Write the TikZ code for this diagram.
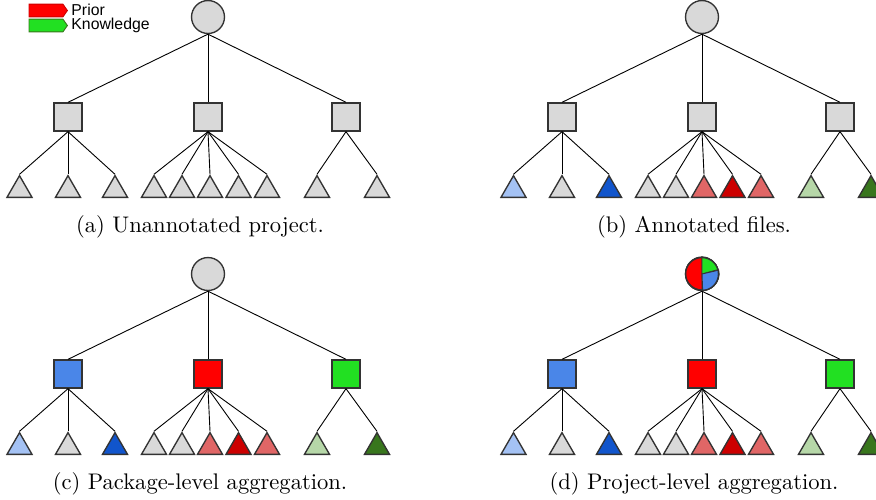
\documentclass[tikz,border=0pt]{standalone}
\usepackage{fontspec}
\newfontfamily\legendfont{Liberation Sans}
\usetikzlibrary{shapes.geometric,shapes.symbols}
\definecolor{nodegray}{RGB}{217,217,217}
\definecolor{lblue}{HTML}{A4C2F4}
\definecolor{dblue}{HTML}{1155CC}
\definecolor{lred}{HTML}{E06666}
\definecolor{dred}{HTML}{CC0000}
\definecolor{lgreen}{HTML}{B6D7A8}
\definecolor{dgreen}{HTML}{38761D}
\definecolor{pblue}{HTML}{4A86E8}
\definecolor{pred}{HTML}{FF0000}
\definecolor{pgreen}{RGB}{34,224,34}

\begin{document}
\begin{tikzpicture}[x=0.443pt,y=-0.443pt,
    rootnode/.style={circle,draw=black!80,line width=0.6pt,fill=nodegray,minimum size=14.6pt,inner sep=0pt},
    pkg/.style={draw=black!80,line width=0.6pt,minimum size=12.4pt,inner sep=0pt},
    leaf/.style={regular polygon,regular polygon sides=3,draw=black!80,line width=0.6pt,minimum size=12.8pt,inner sep=0pt,anchor=south},
    greyed/.style={fill=nodegray},
    coloured/.style={},
    legend/.style={signal,signal to=east,signal pointer angle=110,minimum width=17pt,minimum height=5.6pt,inner sep=0pt,line width=0.4pt},
    legendtext/.style={anchor=west,inner sep=0pt,font=\legendfont\fontsize{7}{8}\selectfont}]
  \useasboundingbox (0,0) rectangle (876,499);
  % legend
  \node[legend,fill=pred,draw=dred] (prior) at (46,10.5) {};
  \node[legendtext] (priortext) at (71,10) {Prior};
  \node[legend,fill=pgreen,draw=dgreen] (knowledge) at (46,25.5) {};
  \node[legendtext] (knowledgetext) at (71,25.5) {Knowledge};
  % the four trees
  \foreach \p/\dx/\dy/\sa/\sb/\sc/\lk/\cap in {
      a/0/0/nodegray/nodegray/nodegray/greyed/{(a) Unannotated project.},
      b/494/0/nodegray/nodegray/nodegray/coloured/{(b) Annotated files.},
      c/0/257/pblue/pred/pgreen/coloured/{(c) Package-level aggregation.},
      d/494/257/pblue/pred/pgreen/coloured/{(d) Project-level aggregation.}}{
    \begin{scope}[shift={(\dx,\dy)}]
      \node[rootnode] (\p0) at (208,17) {};
      \foreach \x/\c [count=\i] in {68/\sa,208/\sb,346/\sc}{
        \node[pkg,fill=\c] (\p\i) at (\x,117) {};
        \draw (\p0.south) -- (\p\i.north);
      }
      \foreach \x/\k/\c [count=\i] in {19.5/1/lblue,68/1/nodegray,115/1/dblue,
          154/2/nodegray,182/2/nodegray,210/2/lred,238.5/2/dred,267/2/lred,
          317/3/lgreen,377/3/dgreen}{
        \node[leaf,fill=\c,\lk] (\p\k-\i) at (\x,198) {};
        \draw (\p\k.south) -- (\p\k-\i.corner 1);
      }
      \node (\p cap) at (200,227) {\cap};
    \end{scope}
  }
  % pie chart on the project node
  \fill[pred,draw=black!80] (d0.center) -- (d0.north) arc[start angle=90,end angle=270,radius=7.3pt] -- cycle;
  \fill[pgreen,draw=black!80] (d0.center) -- (d0.north) arc[start angle=90,end angle=13,radius=7.3pt] -- cycle;
  \fill[pblue,draw=black!80] (d0.center) -- (d0.13) arc[start angle=13,end angle=-90,radius=7.3pt] -- cycle;
  \draw[draw=black!80,line width=0.6pt] (d0.center) circle[radius=7.3pt];
\end{tikzpicture}
\end{document}
